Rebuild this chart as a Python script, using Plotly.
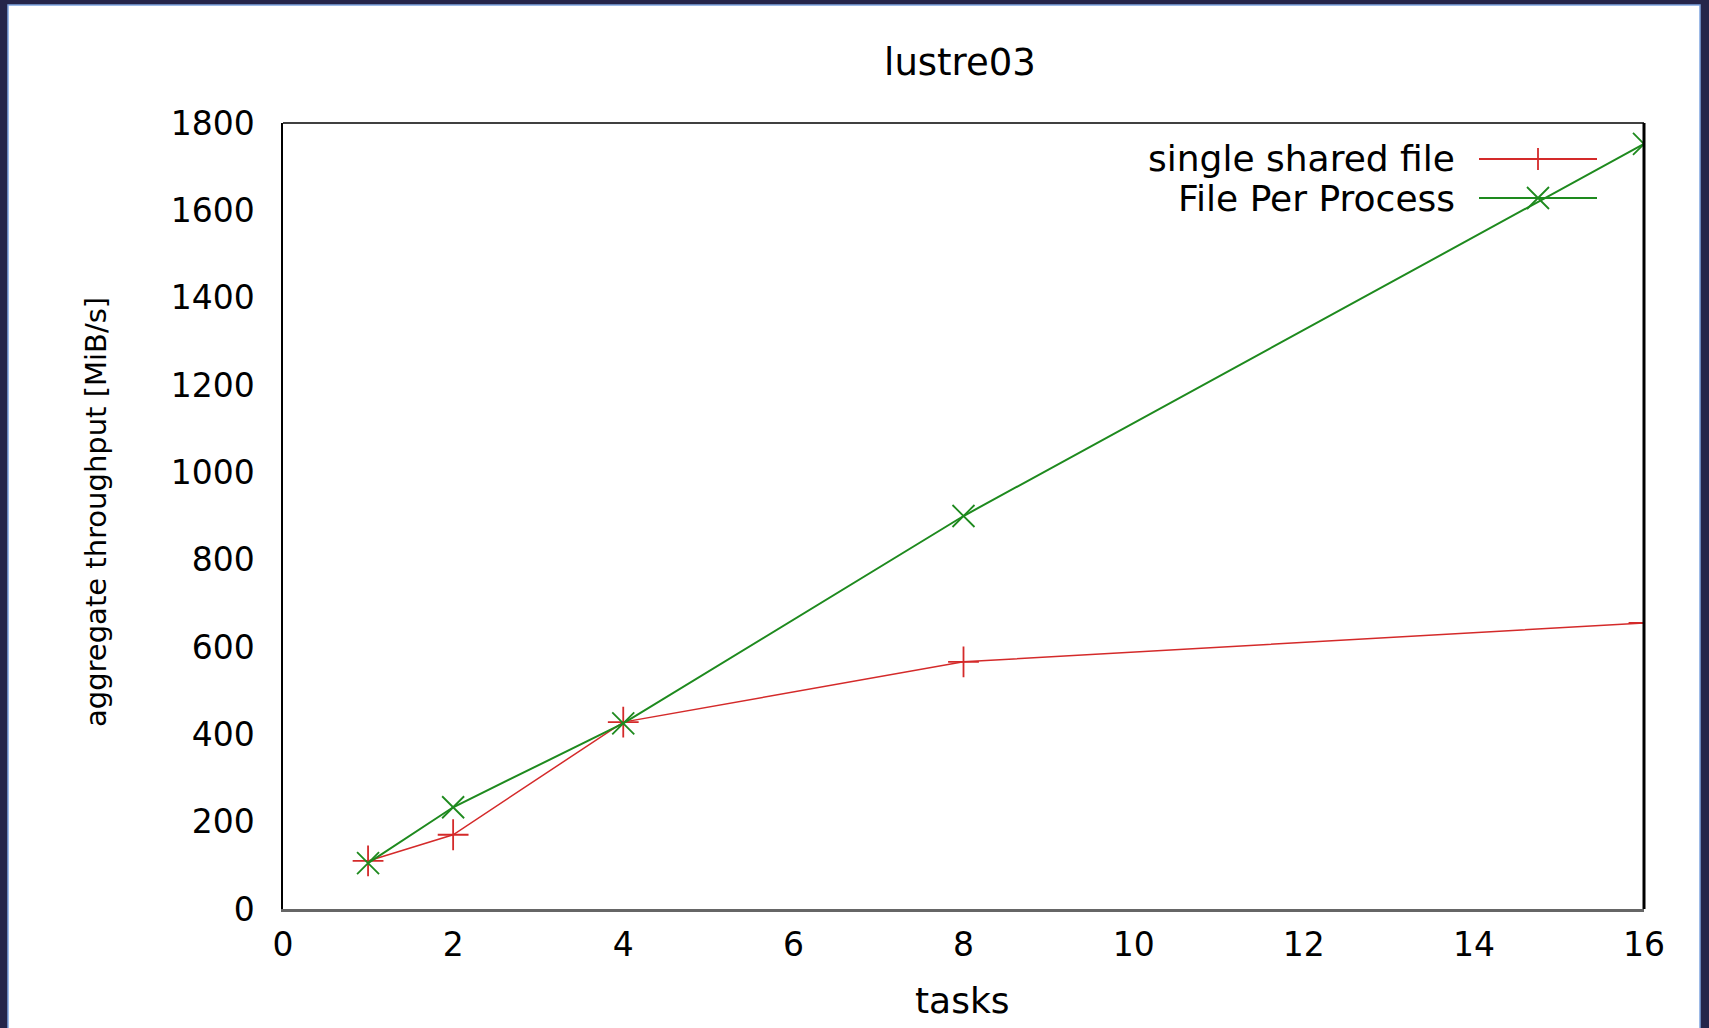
import plotly.graph_objects as go

# ---- data ----
tasks = [1, 2, 4, 8, 16]
single_shared_file = [110, 170, 428, 566, 655]
file_per_process = [105, 233, 425, 900, 1752]

x_ticks = [0, 2, 4, 6, 8, 10, 12, 14, 16]
y_ticks = [0, 200, 400, 600, 800, 1000, 1200, 1400, 1600, 1800]

series_names = ["single shared file", "File Per Process"]
RED = "#d42a2a"
GREEN = "#1e8a1e"

W, H = 1709, 1028
L, R, T, B = 283, 1644, 123, 909  # plot frame in pixels
PW, PH = R - L, B - T


def px(x):
    return (x - L) / PW


def py(y):
    return (B - y) / PH


FONT = "DejaVu Sans"

fig = go.Figure()
fig.add_trace(go.Scatter(
    x=tasks, y=single_shared_file, mode="lines+markers", name=series_names[0],
    line=dict(color=RED, width=1.5),
    marker=dict(symbol="cross-thin", size=22, line=dict(color=RED, width=1.8)),
    showlegend=False,
))
fig.add_trace(go.Scatter(
    x=tasks, y=file_per_process, mode="lines+markers", name=series_names[1],
    line=dict(color=GREEN, width=2),
    marker=dict(symbol="x-thin", size=22, line=dict(color=GREEN, width=1.8)),
    showlegend=False,
))

shapes = []
# screen frame: white page with light-blue edge over dark navy
shapes.append(dict(type="rect", xref="paper", yref="paper", layer="below",
                   x0=px(8), x1=px(1700), y0=py(1060), y1=py(5),
                   fillcolor="white", line=dict(color="#7ea4e0", width=1.5)))
# plot frame top and right edges
shapes.append(dict(type="line", xref="paper", yref="paper", x0=0, x1=1, y0=1, y1=1,
                   line=dict(color="black", width=1.5)))
shapes.append(dict(type="line", xref="paper", yref="paper", x0=1, x1=1, y0=0, y1=1,
                   line=dict(color="black", width=3)))

# legend (gnuplot style: text on the left, sample on the right)
rows = [159, 198]
colors = [RED, GREEN]
sx0, sx1, sm = px(1479), px(1597), px(1538)
dx, dy = 11 / PW, 11 / PH
for i, (name, col, ry) in enumerate(zip(series_names, colors, rows)):
    yy = py(ry)
    shapes.append(dict(type="line", xref="paper", yref="paper", x0=sx0, x1=sx1, y0=yy, y1=yy,
                       line=dict(color=col, width=1.8)))
    if i == 0:
        path = f"M{sm-dx},{yy} L{sm+dx},{yy} M{sm},{yy-dy} L{sm},{yy+dy}"
    else:
        path = f"M{sm-dx},{yy-dy} L{sm+dx},{yy+dy} M{sm-dx},{yy+dy} L{sm+dx},{yy-dy}"
    shapes.append(dict(type="path", xref="paper", yref="paper", path=path,
                       line=dict(color=col, width=1.8)))

annotations = []
for name, ry in zip(series_names, rows):
    annotations.append(dict(text=name, xref="paper", yref="paper", x=px(1457), y=py(ry),
                            xanchor="right", yanchor="middle", showarrow=False,
                            font=dict(family=FONT, size=36, color="black")))
annotations.append(dict(text="tasks", xref="paper", yref="paper", x=px(962), y=py(1000),
                        xanchor="center", yanchor="middle", showarrow=False,
                        font=dict(family=FONT, size=36, color="black")))
annotations.append(dict(text="aggregate throughput [MiB/s]", xref="paper", yref="paper",
                        x=px(96), y=py(512), xanchor="center", yanchor="middle",
                        textangle=-90, showarrow=False,
                        font=dict(family=FONT, size=29, color="black")))

fig.update_layout(
    width=W, height=H,
    margin=dict(l=L, r=W - R, t=T, b=H - B, pad=0),
    paper_bgcolor="#25254a",
    plot_bgcolor="white",
    title=dict(text="lustre03", x=960 / W, xanchor="center", y=1 - 62 / H, yanchor="middle",
               font=dict(family=FONT, size=37, color="black")),
    shapes=shapes,
    annotations=annotations,
    showlegend=False,
)
fig.update_xaxes(range=[0, 16], tickvals=x_ticks, ticktext=[str(v) for v in x_ticks],
                 showgrid=False, zeroline=False, ticks="", showline=True,
                 linecolor="#666666", linewidth=2.5,
                 tickfont=dict(family=FONT, size=33, color="black"),
                 ticklabelstandoff=5)
fig.update_yaxes(range=[0, 1800], tickvals=y_ticks, ticktext=[str(v) for v in y_ticks],
                 showgrid=False, zeroline=False, ticks="", showline=True,
                 linecolor="black", linewidth=1.5,
                 tickfont=dict(family=FONT, size=33, color="black"),
                 ticklabelstandoff=20)

fig.write_html("out.html")
